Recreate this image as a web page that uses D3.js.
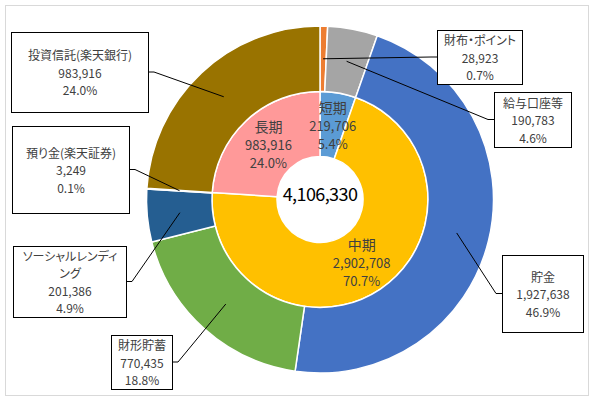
<!DOCTYPE html>
<html>
<head>
<meta charset="utf-8">
<script src="https://cdn.jsdelivr.net/npm/d3@7"></script>
<style>
  body { margin: 0; background: #fff; }
  svg text { font-family: "Noto Sans CJK JP", "Noto Sans", sans-serif; font-feature-settings: "palt"; }
</style>
</head>
<body>
<div id="chart"></div>
<script>
// Outer ring: accounts
const outerNames = ['財布・ポイント', '給与口座等', '貯金', '財形貯蓄', 'ソーシャルレンディング', '預り金(楽天証券)', '投資信託(楽天銀行)'];
const outerValues = [28923, 190783, 1927638, 770435, 201386, 3249, 983916];
const outerColors = ['#ED7D31', '#A5A5A5', '#4472C4', '#70AD47', '#255E91', '#9E480E', '#997300'];

// Inner ring: term
const innerNames = ['短期', '中期', '長期'];
const innerValues = [219706, 2902708, 983916];
const innerColors = ['#5B9BD5', '#FFC000', '#FF9999'];

// Callout boxes for the outer ring labels (same order as outerNames)
const boxes = [
  { x: 437, y: 30, w: 85, h: 54 },
  { x: 494, y: 92, w: 77, h: 55 },
  { x: 502, y: 255, w: 81, h: 77 },
  { x: 111, y: 335, w: 61, h: 54 },
  { x: 13, y: 246, w: 113, h: 71, wrap: 100 },
  { x: 12, y: 126, w: 117, h: 87 },
  { x: 11, y: 32, w: 137, h: 80 }
];

const width = 595, height = 402;
const cx = 320, cy = 199.5;
const rHole = 43, rMid = 108, rOuter = 173.5;

const total = d3.sum(outerValues);
const fmt = d3.format(',');
const pct = v => (v / total * 100).toFixed(1) + '%';

const svg = d3.select('#chart').append('svg')
  .attr('width', width)
  .attr('height', height);

// chart area border
svg.append('rect')
  .attr('x', 5.5).attr('y', 5.5)
  .attr('width', 583).attr('height', 390)
  .attr('fill', '#fff')
  .attr('stroke', '#d9d9d9');

const g = svg.append('g').attr('transform', `translate(${cx},${cy})`);

const pie = d3.pie().sort(null).value(d => d.value);
const outerData = pie(outerNames.map((n, i) => ({ name: n, value: outerValues[i], color: outerColors[i], box: boxes[i] })));
const innerData = pie(innerNames.map((n, i) => ({ name: n, value: innerValues[i], color: innerColors[i] })));

const outerArc = d3.arc().innerRadius(rMid).outerRadius(rOuter);
const innerArc = d3.arc().innerRadius(rHole).outerRadius(rMid);

g.append('g').selectAll('path')
  .data(innerData)
  .join('path')
  .attr('d', innerArc)
  .attr('fill', d => d.data.color)
  .attr('stroke', '#fff')
  .attr('stroke-width', 1.5);

g.append('g').selectAll('path')
  .data(outerData)
  .join('path')
  .attr('d', outerArc)
  .attr('fill', d => d.data.color)
  .attr('stroke', '#fff')
  .attr('stroke-width', 1.5);

// leader lines
outerData.forEach(d => {
  const b = d.data.box;
  const [px, py] = outerArc.centroid(d);
  const leftSide = b.x + b.w / 2 > cx;
  const sx = (leftSide ? b.x : b.x + b.w) - cx;
  const sy = b.y + b.h / 2 - cy;
  const ex = sx + (leftSide ? -6 : 6);
  g.append('polyline')
    .attr('points', [[px, py], [ex, sy], [sx, sy]].map(p => p.join(',')).join(' '))
    .attr('fill', 'none')
    .attr('stroke', '#000')
    .attr('stroke-width', 1);
});

// simple character wrap inside a callout
function wrapName(name, maxW, size) {
  const probe = svg.append('text').style('font-size', size + 'px');
  const lines = [];
  let cur = '';
  for (const ch of name) {
    probe.text(cur + ch);
    if (cur && probe.node().getComputedTextLength() > maxW) {
      lines.push(cur);
      cur = ch;
    } else cur += ch;
  }
  lines.push(cur);
  probe.remove();
  return lines;
}

// callout boxes
outerData.forEach(d => {
  const b = d.data.box;
  svg.append('rect')
    .attr('x', b.x + 0.5).attr('y', b.y + 0.5)
    .attr('width', b.w).attr('height', b.h)
    .attr('fill', '#fff')
    .attr('stroke', '#000')
    .attr('stroke-width', 1);

  const nameLines = wrapName(d.data.name, b.wrap || 200, 12);
  const rows = nameLines.map(t => ({ t, size: 12 }))
    .concat([{ t: fmt(d.data.value), size: 12 }, { t: pct(d.data.value), size: 12 }]);
  const lh = 17.5;
  const top = b.y + b.h / 2 - (rows.length - 1) * lh / 2;
  rows.forEach((r, i) => {
    svg.append('text')
      .attr('x', b.x + b.w / 2 + 0.5)
      .attr('y', top + i * lh)
      .attr('text-anchor', 'middle')
      .attr('dominant-baseline', 'central')
      .style('font-size', r.size + 'px')
      .style('fill', '#404040')
      .text(r.t);
  });
});

// inner ring labels
innerData.forEach(d => {
  const [x, y] = innerArc.centroid(d);
  const rows = [{ t: d.data.name, size: 14 }, { t: fmt(d.data.value), size: 13 }, { t: pct(d.data.value), size: 13 }];
  rows.forEach((r, i) => {
    g.append('text')
      .attr('x', x)
      .attr('y', y + (i - 1) * 18)
      .attr('text-anchor', 'middle')
      .attr('dominant-baseline', 'central')
      .style('font-size', r.size + 'px')
      .style('fill', '#404040')
      .text(r.t);
  });
});

// total in the hole
g.append('text')
  .attr('x', 0)
  .attr('y', -7)
  .attr('text-anchor', 'middle')
  .attr('dominant-baseline', 'central')
  .style('font-size', '18px')
  .style('letter-spacing', '-0.6px')
  .style('fill', '#000')
  .text(fmt(total));
</script>
</body>
</html>
